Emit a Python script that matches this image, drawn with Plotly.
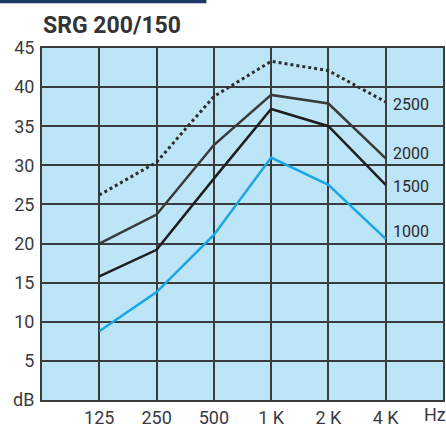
import plotly.graph_objects as go

title = "SRG 200/150"
frequencies = ["125", "250", "500", "1 K", "2 K", "4 K"]
y_tick_vals = [0, 5, 10, 15, 20, 25, 30, 35, 40, 45]
y_tick_text = ["dB", "5", "10", "15", "20", "25", "30", "35", "40", "45"]
x_unit = "Hz"

series_names = ["2500", "2000", "1500", "1000"]
s2500 = [26.2, 30.4, 38.8, 43.3, 42.1, 38.1]
s2000 = [20.0, 23.7, 32.6, 39.0, 37.9, 30.9]
s1500 = [15.8, 19.2, 28.3, 37.2, 35.0, 27.5]
s1000 = [8.8, 13.8, 21.1, 31.0, 27.5, 20.6]

values = [s2500, s2000, s1500, s1000]
styles = [
    dict(color="#2e2e2e", width=3, dash="dot"),
    dict(color="#3a3a3a", width=2.5, dash="solid"),
    dict(color="#1e1e1e", width=2.5, dash="solid"),
    dict(color="#1aa6e6", width=2.5, dash="solid"),
]
label_shift = [-3, 5, -2, 7]

font = "Roboto, Arial, sans-serif"
grid = "#3b3b3b"
text_col = "#3a3a44"

fig = go.Figure()
for name, vals, st in zip(series_names, values, styles):
    fig.add_trace(go.Scatter(x=frequencies, y=vals, mode="lines", name=name,
                             line=st, showlegend=False))

for name, vals, sh in zip(series_names, values, label_shift):
    fig.add_annotation(x=frequencies[-1], y=vals[-1], text=name, showarrow=False,
                       xanchor="left", yanchor="middle", xshift=5, yshift=sh,
                       font=dict(family=font, size=16, color="#2a2a2a"))

fig.add_annotation(x=0.98, xref="paper", y=0, yref="paper", text=x_unit,
                   showarrow=False, xanchor="center", yanchor="middle", yshift=-14,
                   font=dict(family=font, size=18, color=text_col))

fig.add_annotation(x=0, xref="paper", y=1.065, yref="paper", text="<b>" + title + "</b>",
                   showarrow=False, xanchor="left", yanchor="middle", xshift=-1,
                   font=dict(family=font, size=23, color="#333333"))

fig.add_shape(type="rect", xref="paper", yref="paper", x0=-0.11, x1=0.41,
              y0=1.127, y1=1.14, fillcolor="#1d3a66", line=dict(width=0))

fig.update_layout(
    width=446, height=427,
    margin=dict(l=42, r=3, t=48, b=27, autoexpand=False),
    paper_bgcolor="white",
    plot_bgcolor="#bde5f8",
    font=dict(family=font, size=18, color=text_col),
)
fig.update_xaxes(type="category", range=[-1, 6], showgrid=True, gridcolor=grid,
                 gridwidth=2, showline=True, linecolor=grid, linewidth=2, mirror=True,
                 ticks="", tickfont=dict(size=18, color=text_col), zeroline=False,
                 automargin=False)
fig.update_yaxes(range=[0, 45], tickvals=y_tick_vals, ticktext=y_tick_text,
                 showgrid=True, gridcolor=grid, gridwidth=2, showline=True,
                 linecolor=grid, linewidth=2, mirror=True, zeroline=False,
                 ticks="outside", ticklen=2, tickcolor="rgba(0,0,0,0)",
                 tickfont=dict(size=18, color=text_col), automargin=False)

fig.write_html("out.html", config={"displayModeBar": False},
               post_script="document.body.style.margin='0';")
